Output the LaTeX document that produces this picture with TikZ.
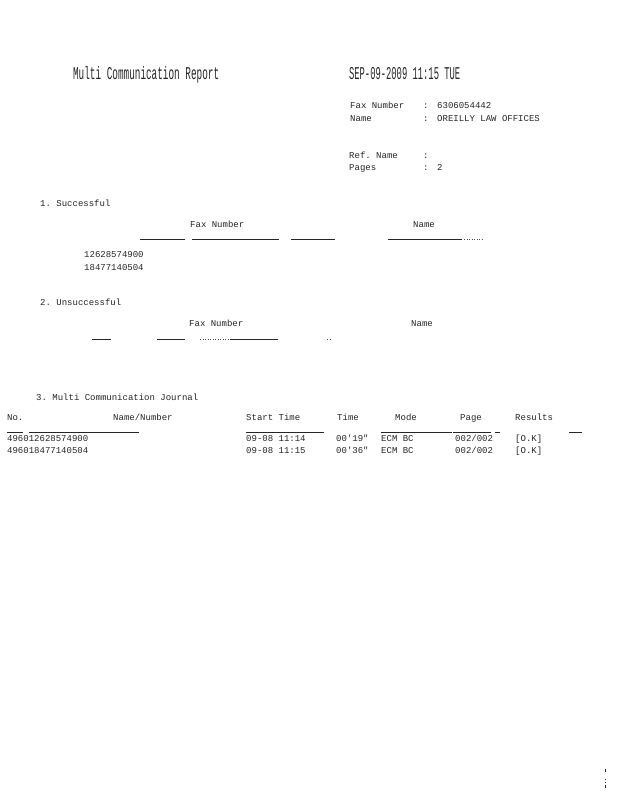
\documentclass[tikz,border=0pt]{standalone}
\usepackage{fontspec}
\setmonofont{Liberation Mono}
\begin{document}
\begin{tikzpicture}[x=1pt,y=-1pt,
  txt/.style={anchor=base west,inner sep=0pt,font=\ttfamily\fontsize{9}{10}\selectfont,text=black!85},
  big/.style={anchor=base west,inner sep=0pt,font=\ttfamily\fontsize{18}{20}\selectfont,text=black!85,transform shape},
  rule/.style={line width=0.8pt,black!85},
  dots/.style={line width=0.8pt,black!70,dash pattern=on 1pt off 1.5pt}]
\useasboundingbox (0,0) rectangle (619,800);
% header
\begin{scope}[xscale=0.52]
\node[big] (title) at (73/0.52,80) {Multi Communication Report};
\end{scope}
\begin{scope}[xscale=0.49]
\node[big] (date) at (349/0.49,80) {SEP-09-2009 11:15 TUE};
\end{scope}
\node[txt] (fnl) at (350,108) {Fax Number};
\node[txt] (fnc) at (423,108) {:};
\node[txt] (fnv) at (437,108) {6306054442};
\node[txt] (nml) at (350,121) {Name};
\node[txt] (nmc) at (423,121) {:};
\node[txt] (nmv) at (437,121) {OREILLY LAW OFFICES};
\node[txt] (rfl) at (349,158) {Ref. Name};
\node[txt] (rfc) at (423,158) {:};
\node[txt] (pgl) at (349,170) {Pages};
\node[txt] (pgc) at (423,170) {:};
\node[txt] (pgv) at (437,170) {2};
% section 1
\node[txt] (s1) at (40,206) {1. Successful};
\node[txt] (s1fax) at (190,227) {Fax Number};
\node[txt] (s1name) at (413,227) {Name};
\draw[rule] (140,239) -- (185,239);
\draw[rule] (192,239) -- (279,239);
\draw[rule] (291,239) -- (335,239);
\draw[rule] (388,239) -- (462,239);
\draw[dots] (464,239) -- (483,239);
\node[txt] (n1) at (84,257) {12628574900};
\node[txt] (n2) at (84,270) {18477140504};
% section 2
\node[txt] (s2) at (40,305) {2. Unsuccessful};
\node[txt] (s2fax) at (189,326) {Fax Number};
\node[txt] (s2name) at (411,326) {Name};
\draw[rule] (92,339) -- (111,339);
\draw[rule] (157,339) -- (185,339);
\draw[dots] (200,339) -- (229,339);
\draw[rule] (230,339) -- (278,339);
\draw[dots] (327,339) -- (331,339);
% section 3
\node[txt] (s3) at (36,400) {3. Multi Communication Journal};
\node[txt] (hno) at (7,420) {No.};
\node[txt] (hnm) at (113,420) {Name/Number};
\node[txt] (hst) at (246,420) {Start Time};
\node[txt] (htm) at (337,420) {Time};
\node[txt] (hmd) at (395,420) {Mode};
\node[txt] (hpg) at (460,420) {Page};
\node[txt] (hrs) at (515,420) {Results};
\draw[rule] (7,432) -- (23,432);
\draw[rule] (29,432) -- (139,432);
\draw[rule] (246,432) -- (324,432);
\draw[rule] (381,432) -- (452,432);
\draw[rule] (453,432) -- (491,432);
\draw[rule] (495,432) -- (500,432);
\draw[rule] (569,432) -- (582,432);
\node[txt] (r1a) at (7,441) {496012628574900};
\node[txt] (r1b) at (246,441) {09-08 11:14};
\node[txt] (r1c) at (336,441) {00'19"};
\node[txt] (r1d) at (381,441) {ECM BC};
\node[txt] (r1e) at (455,441) {002/002};
\node[txt] (r1f) at (515,441) {[O.K]};
\node[txt] (r2a) at (7,453) {496018477140504};
\node[txt] (r2b) at (246,453) {09-08 11:15};
\node[txt] (r2c) at (336,453) {00'36"};
\node[txt] (r2d) at (381,453) {ECM BC};
\node[txt] (r2e) at (455,453) {002/002};
\node[txt] (r2f) at (515,453) {[O.K]};
% specks
\fill[black!85] (605,769) rectangle (606,772);
\fill[black!85] (605,779) rectangle (606,780);
\fill[black!85] (605,782) rectangle (606,783);
\fill[black!85] (605,785) rectangle (606,788);
\end{tikzpicture}
\end{document}
